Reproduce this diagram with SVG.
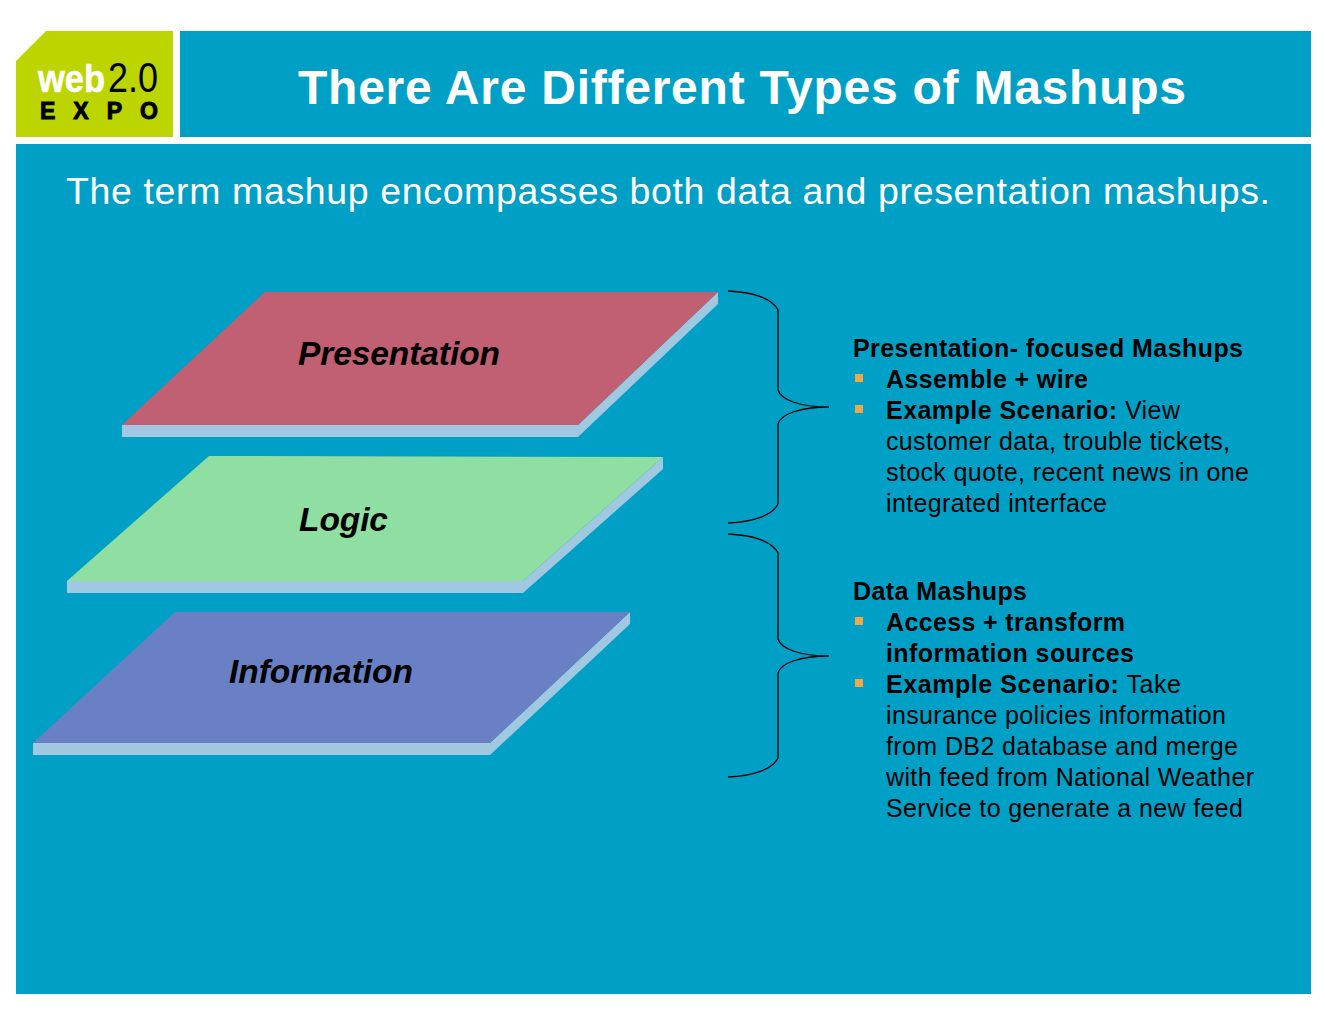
<svg xmlns="http://www.w3.org/2000/svg" width="1325" height="1024" viewBox="0 0 1325 1024">
<style>
text{font-family:"Liberation Sans",Arial,sans-serif;fill:#000}
.teal{fill:#00a0c6}
.side{fill:#a0c8e0}
.lab{font-size:33.5px;font-weight:bold;font-style:italic}
.b{font-size:25px}
.bb{font-weight:bold}
.sq{fill:#f0a848}
.brace{fill:none;stroke:#000;stroke-width:1.3}
</style>
<rect width="1325" height="1024" fill="#fff"/>
<g id="logo">
<polygon points="46,31 173,31 173,137 16,137 16,61" fill="#bcd400"/>
<text x="38" y="92" font-size="39" font-weight="bold" stroke="#fff" stroke-width="0.6" style="fill:#fff" textLength="67" lengthAdjust="spacingAndGlyphs">web</text>
<text x="108" y="92" font-size="42" textLength="50" lengthAdjust="spacingAndGlyphs">2.0</text>
<text x="40" y="119" font-size="23" font-weight="bold" stroke="#000" stroke-width="1" textLength="118">EXPO</text>
</g>
<g id="title">
<rect class="teal" x="180" y="31" width="1131" height="106"/>
<text x="742" y="103.5" font-size="48" font-weight="bold" text-anchor="middle" style="fill:#fff" textLength="888">There Are Different Types of Mashups</text>
</g>
<g id="panel">
<rect class="teal" x="16" y="144" width="1295" height="850"/>
<text x="66" y="204" font-size="37.5" style="fill:#fff" textLength="1204">The term mashup encompasses both data and presentation mashups.</text>
</g>
<g id="presentation">
<polygon class="side" points="122,425 578,425 718,292 718,304 578,437 122,437"/>
<polygon points="122,425 265,292 718,292 578,425" fill="#c15f73"/>
<text class="lab" x="298" y="365" textLength="202">Presentation</text>
</g>
<g id="logic">
<polygon class="side" points="67,581 523,581 663,457 663,469 523,593 67,593"/>
<polygon points="67,581 209,456 663,457 523,581" fill="#90dfa2"/>
<text class="lab" x="299" y="531" textLength="89">Logic</text>
</g>
<g id="information">
<polygon class="side" points="33,743 490,743 630,612 630,624 490,755 33,755"/>
<polygon points="33,743 175,612 630,612 490,743" fill="#6a80c4"/>
<text class="lab" x="229" y="683" textLength="184">Information</text>
</g>
<g id="connectors">
<path class="brace" d="M728,291 C752,292 772,298 778,310 L778,390 C781,400 800,407 829,407 C800,407 781,414 778,424 L778,504 C772,516 752,522 728,523"/>
<path class="brace" d="M728,534 C752,535 772,541 778,553 L778,639 C781,649 800,656 829,656 C800,656 781,663 778,673 L778,758 C772,770 752,776 728,777"/>
</g>
<g id="presentation-text">
<text class="b bb" x="853" y="356.500" textLength="390">Presentation- focused Mashups</text>
<rect class="sq" x="855" y="374" width="8" height="8"/>
<text class="b bb" x="886" y="387.500" textLength="202">Assemble + wire</text>
<rect class="sq" x="855" y="405" width="8" height="8"/>
<text class="b" x="886" y="418.500" textLength="294"><tspan class="bb">Example Scenario:</tspan> View</text>
<text class="b" x="886" y="449.500" textLength="344">customer data, trouble tickets,</text>
<text class="b" x="886" y="480.500" textLength="363">stock quote, recent news in one</text>
<text class="b" x="886" y="511.500" textLength="221">integrated interface</text>
</g>
<g id="data-text">
<text class="b bb" x="853" y="599.500" textLength="174">Data Mashups</text>
<rect class="sq" x="855" y="617" width="8" height="8"/>
<text class="b bb" x="886" y="630.500" textLength="239">Access + transform</text>
<text class="b bb" x="886" y="661.500" textLength="248">information sources</text>
<rect class="sq" x="855" y="679" width="8" height="8"/>
<text class="b" x="886" y="692.500" textLength="295"><tspan class="bb">Example Scenario:</tspan> Take</text>
<text class="b" x="886" y="723.500" textLength="340">insurance policies information</text>
<text class="b" x="886" y="754.500" textLength="352">from DB2 database and merge</text>
<text class="b" x="886" y="785.500" textLength="368">with feed from National Weather</text>
<text class="b" x="886" y="816.500" textLength="357">Service to generate a new feed</text>
</g>
</svg>
